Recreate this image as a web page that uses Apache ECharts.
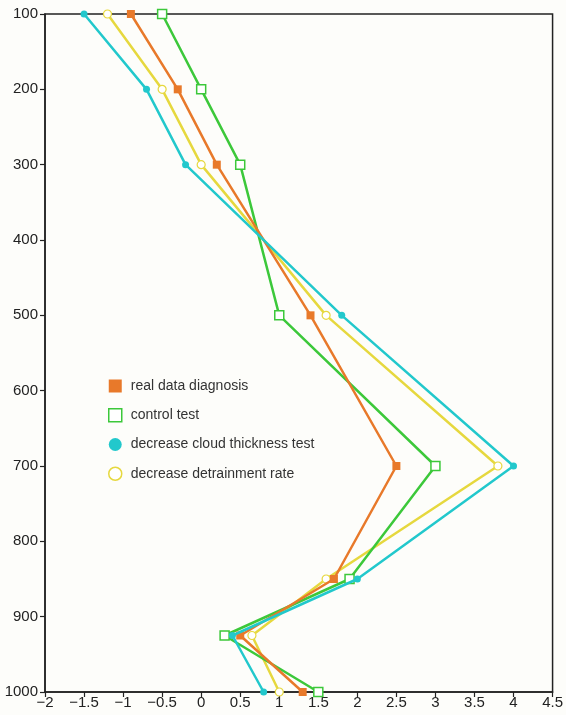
<!DOCTYPE html>
<html>
<head>
<meta charset="utf-8">
<script src="https://cdn.jsdelivr.net/npm/echarts@6/dist/echarts.min.js"></script>
<style>
html,body{margin:0;padding:0;background:#fdfdfa;}
#c{width:566px;height:715px;}
</style>
</head>
<body>
<div id="c"></div>
<script>
const levels = [100, 200, 300, 500, 700, 850, 925, 1000];
const realData = [-0.9, -0.3, 0.2, 1.4, 2.5, 1.7, 0.5, 1.3];
const controlTest = [-0.5, 0.0, 0.5, 1.0, 3.0, 1.9, 0.3, 1.5];
const cloudThick = [-1.5, -0.7, -0.2, 1.8, 4.0, 2.0, 0.4, 0.8];
const detrain = [-1.2, -0.5, 0.0, 1.6, 3.8, 1.6, 0.65, 1.0];
const names = ['real data diagnosis', 'control test', 'decrease cloud thickness test', 'decrease detrainment rate'];

function pairs(vals){ return vals.map((v,i)=>[v, levels[i]]); }

const cOrange = '#e8792a', cGreen = '#3cc83a', cCyan = '#22c8cc', cYellow = '#e6d83e';
const font = 'Liberation Sans, Arial, sans-serif';

const chart = echarts.init(document.getElementById('c'), null, {renderer:'canvas'});
chart.setOption({
  backgroundColor: '#fdfdfa',
  animation: false,
  grid: {left: 45, right: 13, top: 14, bottom: 23, show: true, borderColor: '#222', borderWidth: 1.5, backgroundColor: 'transparent'},
  xAxis: {
    type: 'value', min: -2, max: 4.5, interval: 0.5,
    axisLine: {show: true, onZero: false, lineStyle: {color: '#222', width: 1.5}},
    axisTick: {show: true, length: 5, lineStyle: {color: '#222', width: 1.2}},
    splitLine: {show: false},
    axisLabel: {color: '#222', fontSize: 15, fontFamily: font, margin: 3,
      formatter: v => (v < 0 ? '\u2212' + Math.abs(v) : String(v))}
  },
  yAxis: {
    type: 'value', inverse: true, min: 100, max: 1000, interval: 100,
    axisLine: {show: true, onZero: false, lineStyle: {color: '#222', width: 1.5}},
    axisTick: {show: true, length: 5, lineStyle: {color: '#222', width: 1.2}},
    splitLine: {show: false},
    axisLabel: {color: '#222', fontSize: 15, fontFamily: font, margin: 7, formatter: v => String(v)}
  },
  legend: {
    orient: 'vertical', left: 103, top: 374, itemWidth: 13, itemHeight: 13, itemGap: 15,
    textStyle: {color: '#333', fontSize: 14, fontFamily: font, padding: [0,0,0,4]},
    data: [
      {name: names[0], icon: 'rect', itemStyle: {color: cOrange, borderWidth: 0}},
      {name: names[1], icon: 'rect', itemStyle: {color: '#ffffff', borderColor: cGreen, borderWidth: 1.5}},
      {name: names[2], icon: 'circle', itemStyle: {color: cCyan, borderWidth: 0}},
      {name: names[3], icon: 'circle', itemStyle: {color: '#ffffff', borderColor: cYellow, borderWidth: 1.5}}
    ]
  },
  series: [
    {name: names[0], type: 'line', data: pairs(realData), symbol: 'rect', symbolSize: 8, z: 4,
      lineStyle: {color: cOrange, width: 2.5}, itemStyle: {color: cOrange, borderWidth: 0}},
    {name: names[1], type: 'line', data: pairs(controlTest), symbol: 'rect', symbolSize: 9, z: 3,
      lineStyle: {color: cGreen, width: 2.5}, itemStyle: {color: '#ffffff', borderColor: cGreen, borderWidth: 1.5}},
    {name: names[2], type: 'line', data: pairs(cloudThick), symbol: 'circle', symbolSize: 7, z: 5,
      lineStyle: {color: cCyan, width: 2.5}, itemStyle: {color: cCyan, borderWidth: 0}},
    {name: names[3], type: 'line', data: pairs(detrain), symbol: 'circle', symbolSize: 8, z: 2,
      lineStyle: {color: cYellow, width: 2.5}, itemStyle: {color: '#ffffff', borderColor: cYellow, borderWidth: 1.2}}
  ]
});
</script>
</body>
</html>
